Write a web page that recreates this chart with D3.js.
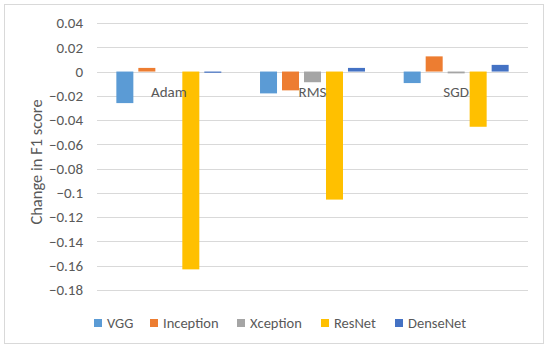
<!DOCTYPE html>
<html>
<head>
<meta charset="utf-8">
<script src="https://cdn.jsdelivr.net/npm/d3@7"></script>
<style>
  body { margin: 0; background: #fff; }
  text { font-family: Carlito, Calibri, Lato, "Open Sans", sans-serif; fill: #595959; }
</style>
</head>
<body>
<div id="chart"></div>
<script>
const optimizers = ['Adam', 'RMS', 'SGD'];
const models = ['VGG', 'Inception', 'Xception', 'ResNet', 'DenseNet'];
const vgg = [-0.026, -0.018, -0.0095];
const inception = [0.003, -0.0155, 0.0125];
const xception = [0, -0.0088, -0.0015];
const resnet = [-0.163, -0.1055, -0.0455];
const densenet = [-0.001, 0.003, 0.0055];
const yTicks = [0.04, 0.02, 0, -0.02, -0.04, -0.06, -0.08, -0.1, -0.12, -0.14, -0.16, -0.18];
const colors = ['#5B9BD5', '#ED7D31', '#A5A5A5', '#FFC000', '#4472C4'];

const seriesValues = [vgg, inception, xception, resnet, densenet];

const width = 550, height = 352;
const margin = { top: 23, right: 22, bottom: 62, left: 97 };

const svg = d3.select('#chart').append('svg')
  .attr('width', width)
  .attr('height', height);

// outer border
svg.append('rect')
  .attr('x', 4.5).attr('y', 4.5)
  .attr('width', 539).attr('height', 339)
  .attr('fill', '#fff')
  .attr('stroke', '#D9D9D9');

const x0 = d3.scaleBand()
  .domain(optimizers)
  .range([margin.left, width - margin.right]);

const x1 = d3.scaleBand()
  .domain(models)
  .range([0, x0.bandwidth()])
  .paddingInner(0.227)
  .paddingOuter(0.88);

const y = d3.scaleLinear()
  .domain([-0.18, 0.04])
  .range([height - margin.bottom, margin.top]);

// gridlines
svg.append('g')
  .selectAll('line')
  .data(yTicks)
  .join('line')
  .attr('x1', margin.left)
  .attr('x2', width - margin.right)
  .attr('y1', d => Math.round(y(d)) + 0.5)
  .attr('y2', d => Math.round(y(d)) + 0.5)
  .attr('stroke', '#D9D9D9')
  .attr('stroke-width', 1);

// y tick labels
svg.append('g')
  .selectAll('text')
  .data(yTicks)
  .join('text')
  .attr('x', margin.left - 14)
  .attr('y', d => y(d))
  .attr('dy', '0.35em')
  .attr('text-anchor', 'end')
  .attr('font-size', 15)
  .text(d => d3.format('')(+d.toFixed(2)));

// bars
const groups = svg.append('g')
  .selectAll('g')
  .data(optimizers)
  .join('g')
  .attr('transform', d => `translate(${x0(d)},0)`);

groups.selectAll('rect')
  .data((d, i) => models.map((m, j) => ({ model: m, value: seriesValues[j][i], color: colors[j] })))
  .join('rect')
  .attr('x', d => x1(d.model))
  .attr('width', x1.bandwidth())
  .attr('y', d => y(Math.max(0, d.value)))
  .attr('height', d => Math.abs(y(d.value) - y(0)))
  .attr('fill', d => d.color);

// category labels (sit just below the zero line)
svg.append('g')
  .selectAll('text')
  .data(optimizers)
  .join('text')
  .attr('x', d => x0(d) + x0.bandwidth() / 2)
  .attr('y', 97)
  .attr('text-anchor', 'middle')
  .attr('font-size', 15)
  .text(d => d);

// y axis title
svg.append('text')
  .attr('transform', 'translate(42,162) rotate(-90)')
  .attr('text-anchor', 'middle')
  .attr('font-size', 16.5)
  .text('Change in F1 score');

// legend
const legendX = [94, 150, 237, 321, 395];
const legend = svg.append('g')
  .selectAll('g')
  .data(models)
  .join('g')
  .attr('transform', (d, i) => `translate(${legendX[i]},319)`);

legend.append('rect')
  .attr('width', 8).attr('height', 8)
  .attr('fill', (d, i) => colors[i]);

legend.append('text')
  .attr('x', 13)
  .attr('y', 4)
  .attr('dy', '0.35em')
  .attr('font-size', 14.5)
  .text(d => d);
</script>
</body>
</html>
